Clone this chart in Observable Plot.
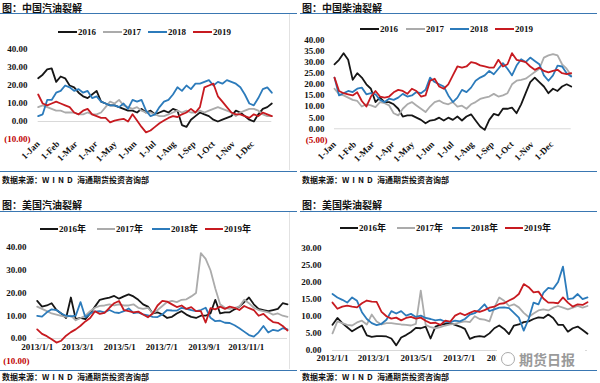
<!DOCTYPE html>
<html><head><meta charset="utf-8">
<script src="https://cdn.jsdelivr.net/npm/d3@7"></script>
<script src="https://cdn.jsdelivr.net/npm/@observablehq/plot@0.6"></script>
<style>
body{margin:0;background:#fff;}
#root{position:relative;width:600px;height:383px;overflow:hidden;background:#fff;}
.title{position:absolute;font:bold 10px/11px "Noto Sans CJK SC",sans-serif;color:#111;white-space:nowrap;}
.foot{position:absolute;font:bold 8px/9px "Noto Sans CJK SC",sans-serif;color:#111;white-space:nowrap;}
.rule{position:absolute;height:0;border-top:1.5px solid #3a77b2;}
.vrule{position:absolute;width:0;border-left:1px solid #e2e2e2;}
.leg{position:absolute;display:flex;align-items:center;font:bold 9px/10px "Liberation Serif",serif;color:#111;white-space:nowrap;}
.leg .sw{display:inline-block;height:2.5px;margin-right:1px;}
.leg .lt{font-family:"Liberation Serif","Noto Sans CJK SC",serif;}
svg.p{position:absolute;overflow:visible;}
.wm{position:absolute;background:#fff;color:#9a9a9a;font:bold 14px/18px "Noto Sans CJK SC",sans-serif;white-space:nowrap;}
</style>
</head><body><div id="root"></div>
<script>
// ---------- data ----------
const years = ["2016","2017","2018","2019"];
const usLegendLabels = ["2016年","2017年","2018年","2019年"];
const cnTickLabels = ["1-Jan","1-Feb","1-Mar","1-Apr","1-May","1-Jun","1-Jul","1-Aug","1-Sep","1-Oct","1-Nov","1-Dec"];
const usTickLabels = ["2013/1/1","2013/3/1","2013/5/1","2013/7/1","2013/9/1","2013/11/1"];
const cnGasYTicks = [-10,0,10,20,30,40];
const cnDieselYTicks = [-5,0,5,10,15,20,25,30,35,40];
const usGasYTicks = [-10,0,10,20,30,40];
const usDieselYTicks = [0,5,10,15,20,25,30];

// China gasoline crack (weekly samples)
const cnGas2016 = [24,26,29,29.5,22,25,24,20,19,16,14,13,15,17,11,10,9,9,8,7,6,6,5,7,5,6,4,5,6,5,7,6,-2,-3,1,3,5,4,3,1,0,1,2,3,6,5,3,1,0,4,7,8,10];
const cnGas2017 = [8,9,8,7,6,6,5,5,5,4,4,5,4,4,5,8,11,10,12,9,8,7,8,6,5,5,4,3,3,4,5,6,5,6,5,5,6,5,6,7,8,7,6,5,3,5,6,7,7,6,4,3,3];
const cnGas2018 = [3,4,12,12,16,17,20,19,17,18,16,17,13,14,11,10,9,9,8,10,7,12,11,12,6,3,4,8,11,12,15,19,17,20,18,21,21,22,23,20,22,21,23,22,21,19,15,10,9,13,18,19,16];
const cnGas2019 = [15,10,9,10,11,10,9,8,5,4,6,7,4,3,2,2,-0.5,0.5,1,1.5,0,4,0.5,-3,-6,-5,-3,-1,0.5,2,3,2.5,4,5,7,5,8,19,20,21,14,11,8,5,4,4,3,2,4,3,5,4,3];

// China diesel crack
const cnDiesel2016 = [29,31,34,31,22,25,23,20,18,12,14,12,12,11,9,5.5,6,6,5,4,2.5,3.7,4,5,3.7,5,4,5.5,3.7,5.5,6.5,3.7,1,-0.5,4,6.7,6,9,9,9.5,7,11,16,21,23,21,19,16,18,17,19,20,19];
const cnDiesel2017 = [18,15.5,15,14,13,12.5,10,11,10.5,9.7,12,11.5,10.5,7,6,9,11,12,10.5,9,7.5,10,12,12.7,11.5,11,12,10,10.4,9,11,12,13.4,14,14.5,15.7,14.5,15,16,20,21.6,22,22.5,24,25.5,27,32,33,33.6,33,29,27,24];
const cnDiesel2018 = [23,15,16,17,16.5,18,18.5,15.5,16,15.5,13,12,13.5,13,14,15.7,14.5,15,16.5,16,17.5,23,21,20,19,15,12,14,17.5,16.5,18.5,21.6,23,24,26,24.5,27,29.5,27,24,28.4,31.3,30,32,30.5,29,24,21.6,24,28.4,28,25,23.5];
const cnDiesel2019 = [23,17,16,15.5,15,16.4,12.5,10,14.5,17,14.5,14,14.5,16.4,17.5,17,15.7,18,17,14.5,15,21.6,22.5,19,18,20,24,28,27.5,28,30,29.5,28.5,28,27.5,27.5,31,28,29,34,31,30.5,30,28,26.5,27.5,26,25.4,26,26.5,25,24.6,25];

// US gasoline crack
const usGas2016 = [16.5,14,14.5,15.5,12.5,11,9,18,8.5,9,8.5,11,14,17,17.5,18,18.7,17.5,18.5,19.4,18.5,17,15,14,11,11.5,10.5,9,9.5,11,12,10.5,9.5,9,10,10,11,17,11,11.5,11.5,12.8,14,16,18,15,13,12.5,12,12.5,13,15.5,15];
const usGas2017 = [14,13,12,11,10.5,9.9,9.5,10,8,9,10,12,13.5,14.3,14.5,15,14.5,15,14.5,14.5,15,13.5,13,13.5,11,12.5,14.3,16,16.5,16,17,17.2,18.5,20,37.5,35,30,22,15,13.5,13,13.5,14,17,15.5,13.5,12.5,12,11.5,10.5,11,10,9.5];
const usGas2018 = [9.9,9.6,11.5,12.8,12.5,11,10,9.7,10,16,9.3,11,11.8,12,11.5,12.5,11.5,11.2,12,13.2,11.2,11.5,10.6,10.2,9.5,9.4,10.6,12.5,12.3,12.2,13.5,13,12.5,12,12.5,13.5,9.1,7.6,7.8,6.9,6.8,5.8,4.5,3,1.5,0.8,2.7,5.5,2.6,3.8,3.3,4.5,4];
const usGas2019 = [4,2,1,-0.3,-1.8,-1,1.2,2.8,4,5.6,7.5,9,12,10.8,11.3,13.5,15.5,16.5,12.5,12,11.5,11.8,10.5,9.3,11,14.5,16.5,16.2,15,13.8,14.5,13,13.8,12,12,7,13.3,12.8,14,13,14,13.5,12.5,14.3,13.3,12.5,10,10.8,8.8,7.2,6.9,5.5,3.5];

// US diesel crack
const usDiesel2016 = [7.5,9.5,8,6.8,5.6,6.5,7.3,4.4,4,4.2,4.2,4.1,3.5,1.5,3.8,4.5,5.4,6.6,6.5,7,3.5,7,7.5,7.8,8,7.5,7,6.3,3.4,4,4.2,4,5,6.5,7.3,6.3,4.8,7.3,7.6,8.3,8.5,9.2,9.7,9.5,10.5,9.5,7.5,7.5,5.5,6.5,7,6,4.9];
const usDiesel2017 = [5,8.5,8,7.5,7.3,8.2,8.7,7.6,10.5,8.5,7.6,8,8,7.8,7.6,7.5,7.3,7.8,17.5,7.5,6.8,6.5,6.8,7.3,7.6,7.8,8.2,8.5,8.3,10,9.2,9,8.5,12.5,15.5,14.5,13,13.5,12.6,11,9.8,10.8,11.7,12,11.7,12.5,13,12.5,12,12.5,13,12.5,13];
const usDiesel2018 = [16.5,15.5,14.8,14,15.5,14.5,11.2,9.2,8,7.4,7.8,9,11.5,10.8,11.5,10.2,10.7,9.8,10.2,9.5,9.2,8.8,9,8.4,8.3,8.7,8.5,9.2,10.5,10.9,12,13.5,11.5,12,12.5,12.6,12.4,11,9.6,5.8,9.2,14,13.5,16.8,18.3,18,20,24.5,15,15.2,16.5,15,15.5];
const usDiesel2019 = [14,12.2,12.8,13.1,12.8,12.6,13.8,14.6,14.3,14.2,11.3,10,9.3,9.6,8.8,9.5,9.8,9.3,9.6,8.7,8,8.1,7.5,8.7,8.4,10.2,10.9,10.3,11,11.6,11.3,11.8,12.5,12.8,13.6,13.8,14.6,15.3,16.5,19.4,18.5,17,17.2,15.2,14,14,13.8,15.5,14,12.8,13.5,13.3,14.1];

// ---------- helpers ----------
const COLORS = ["#161616","#ababab","#2c7bbb","#c71a20"];
const NEG = "#c00000";
const weekDates = yr => d3.range(53).map(i => new Date(Date.UTC(yr, 0, 1 + 7 * i)));
function rows(list, yr) {
  const ds = weekDates(yr);
  return list.flatMap((vals, k) => vals.map((v, i) => ({date: ds[i], value: v, series: years[k]})));
}
const f2 = d3.format(".2f");
const root = document.getElementById("root");
function add(html) { root.insertAdjacentHTML("beforeend", html); }
function place(svg, left, top) { svg.classList.add("p"); svg.style.left = left + "px"; svg.style.top = top + "px"; root.appendChild(svg); }
const baseStyle = {fontFamily: "'Liberation Serif', serif", fontSize: "9px", fontWeight: "bold", color: "#111", background: "transparent", overflow: "visible"};

function yAxes(ticks, pad) {
  return [
    Plot.axisY(ticks.filter(t => t >= 0), {tickSize: 0, tickPadding: pad, tickFormat: f2, label: null}),
    Plot.axisY(ticks.filter(t => t < 0), {tickSize: 0, tickPadding: pad - 3, tickFormat: d => "(" + f2(-d) + ")", fill: NEG, label: null})
  ];
}
function lines(data) {
  return Plot.line(data, {x: "date", y: "value", z: "series", stroke: "series", strokeWidth: 1.8, strokeLinejoin: "round"});
}

const cnMonths = d3.range(12).map(m => new Date(Date.UTC(2019, m, 1)));
const usMonths = d3.range(6).map(m => new Date(Date.UTC(2013, 2 * m, 1)));

function cnPanel(list, yTicks, yDomain, opts) {
  return Plot.plot({
    width: 290, height: opts.height,
    marginLeft: opts.ml, marginRight: 290 - opts.xEnd, marginTop: opts.mt, marginBottom: opts.mb,
    x: {type: "utc", domain: [new Date(Date.UTC(2019,0,1)), new Date(Date.UTC(2019,11,31))], axis: null},
    y: {domain: yDomain, axis: null},
    color: {domain: years, range: COLORS},
    style: baseStyle,
    marks: [
      Plot.ruleY([0], {stroke: "#d9d9d9", strokeWidth: 1}),
      lines(rows(list, 2019)),
      ...yAxes(yTicks, opts.pad),
      Plot.axisX(cnMonths, {tickSize: 0, tickPadding: 3, tickRotate: -45, tickFormat: d => cnTickLabels[d.getUTCMonth()], label: null})
    ]
  });
}
function usPanel(list, yTicks, yDomain, opts) {
  const labelTicks = usMonths.slice(0, opts.nLabels);
  return Plot.plot({
    width: 295, height: opts.height,
    marginLeft: opts.ml, marginRight: 295 - opts.xEnd, marginTop: opts.mt, marginBottom: opts.mb,
    x: {type: "utc", domain: [new Date(Date.UTC(2013,0,1)), new Date(Date.UTC(2013,11,31))], axis: null},
    y: {domain: yDomain, axis: null},
    color: {domain: years, range: COLORS},
    style: baseStyle,
    marks: [
      Plot.ruleY([0], {stroke: "#d9d9d9", strokeWidth: 1}),
      lines(rows(list, 2013)),
      ...yAxes(yTicks, opts.pad),
      Plot.text(labelTicks, {x: d => d, y: () => 0, dy: opts.labelDy, text: d => usTickLabels[d.getUTCMonth() / 2]})
    ]
  });
}

function legend(left, top, lefts, labels, swW) {
  labels.forEach((lab, i) => {
    add(`<div class="leg" style="left:${left + lefts[i]}px;top:${top - 5}px"><span class="sw" style="width:${swW}px;background:${COLORS[i]}"></span><span class="lt">${lab}</span></div>`);
  });
}
function frame(px, py, title, titleTop, ruleTop, footRule, footTop) {
  add(`<div class="title" style="left:${px + 2}px;top:${titleTop}px">${title}</div>`);
  add(`<div class="rule" style="left:${px}px;top:${ruleTop}px;width:297px"></div>`);
  add(`<div class="rule" style="left:${px}px;top:${footRule}px;width:297px"></div>`);
  add(`<div class="foot" style="left:${px + 2}px;top:${footTop}px">数据来源：</div>`);
  add(`<div class="foot" style="left:${px + 42}px;top:${footTop}px;letter-spacing:3px">WIND</div>`);
  add(`<div class="foot" style="left:${px + 77}px;top:${footTop}px">海通期货投资咨询部</div>`);
}

// Panel 1
frame(0, 0, "图：中国汽油裂解", 2, 12.5, 170.5, 174.5);
add(`<div class="vrule" style="left:289px;top:14px;height:156px"></div>`);
legend(0, 32, [58, 103, 148, 193], years, 19);
place(cnPanel([cnGas2016, cnGas2017, cnGas2018, cnGas2019], cnGasYTicks, [-10, 40],
  {height: 125, ml: 37.7, xEnd: 271.3, mt: 9, mb: 26, pad: 10.7}), 0, 40);

// Panel 2
frame(300, 0, "图：中国柴油裂解", 2, 12.5, 170.5, 174.5);
legend(300, 29, [60, 106, 150, 195], years, 19);
place(cnPanel([cnDiesel2016, cnDiesel2017, cnDiesel2018, cnDiesel2019], cnDieselYTicks, [-5, 40],
  {height: 140, ml: 34, xEnd: 270.7, mt: 9.3, mb: 30.6, pad: 10}), 300, 30);

// Panel 3
frame(0, 190, "图：美国汽油裂解", 198.5, 211, 369.5, 371.5);
add(`<div class="vrule" style="left:289px;top:212px;height:157px"></div>`);
legend(0, 229, [40, 97, 152, 205], usLegendLabels, 18);
place(usPanel([usGas2016, usGas2017, usGas2018, usGas2019], usGasYTicks, [-10, 40],
  {height: 130, ml: 36.7, xEnd: 287, mt: 10, mb: 6.3, pad: 10.7, labelDy: 9, nLabels: 6}), 0, 237);

// Panel 4 (last tick label is hidden by the watermark in the reference)
frame(300, 190, "图：美国柴油裂解", 198.5, 211, 369.5, 371.5);
legend(300, 228, [40, 97, 152, 205], usLegendLabels, 18);
place(usPanel([usDiesel2016, usDiesel2017, usDiesel2018, usDiesel2019], usDieselYTicks, [0, 30],
  {height: 135, ml: 32, xEnd: 287, mt: 10.3, mb: 22, pad: 11, labelDy: 8, nLabels: 5}), 300, 237);

// watermark
add(`<div class="wm" style="left:497px;top:350px;width:88px;height:18px;padding-left:22px;box-sizing:border-box">期货日报</div>`);
add(`<div style="position:absolute;left:501px;top:352px;width:12px;height:12px;border:1.5px solid #aaa;border-radius:50%"></div>`);
</script></body></html>
